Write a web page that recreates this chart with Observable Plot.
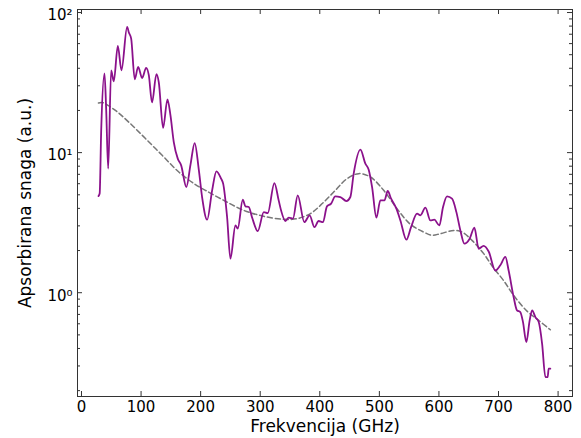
<!DOCTYPE html>
<html>
<head>
<meta charset="utf-8">
<script src="https://cdn.jsdelivr.net/npm/d3@7"></script>
<script src="https://cdn.jsdelivr.net/npm/@observablehq/plot@0.6"></script>
<style>
  body { margin: 0; background: #fff; }
  #chart svg { display: block; }
</style>
</head>
<body>
<div id="chart"></div>
<script>
// Measured absorbed power (purple line)
const freq = [28.5, 30.5, 33, 38.6, 41.5, 44.8, 49.8, 54.2, 61, 67.1, 76.6, 79.5, 83.4, 89.4, 95.1, 101.8, 108.5, 113, 118.4, 125.8, 129.7, 137, 144.3, 149.3, 154.9, 161.6, 167.3, 176, 183, 190, 197, 202.5, 210.9, 219.3, 226.5, 234.4, 237.8, 244.4, 250, 258.4, 262.3, 270.7, 275.2, 280.8, 286.5, 295.9, 306, 312.6, 323.8, 331, 335, 342.3, 347.9, 355, 363, 374, 383, 391, 398, 405.4, 412, 419, 426, 434.5, 444.6, 451.3, 456.9, 468.2, 476.5, 482.1, 487.8, 495, 501.7, 508.5, 514, 519.7, 528.6, 535.3, 545.4, 553.2, 563.3, 568.9, 577.3, 585.6, 592.3, 600.7, 606.9, 613.6, 622, 629.3, 636, 642.7, 651.6, 659.5, 666.7, 675, 683.5, 694.7, 703, 711.5, 717, 725.4, 731, 736.6, 741.1, 746.7, 752.3, 756.4, 761.9, 767.5, 773.2, 778.7, 782.5, 784.2, 787];
const absorbed = [4.9, 5.1, 14.0, 36.7, 20, 7.69, 38.7, 32.3, 57.7, 38.7, 78.9, 72, 65.2, 33.4, 40.9, 34.1, 40.2, 35.7, 22.8, 36.3, 31.9, 15.0, 24.0, 18.5, 11.9, 9.06, 8.11, 5.68, 8.2, 11.7, 7.5, 4.8, 3.32, 5.38, 7.35, 6.52, 6.01, 3.47, 1.75, 3.02, 2.87, 4.62, 4.13, 4.09, 3.43, 2.75, 3.76, 3.70, 6.06, 4.56, 3.87, 3.25, 3.43, 3.38, 4.96, 3.19, 3.57, 2.94, 3.25, 3.19, 4.13, 4.32, 4.87, 4.82, 4.51, 4.82, 7.08, 10.5, 8.34, 7.56, 5.68, 3.43, 4.56, 4.56, 5.32, 4.69, 3.98, 3.28, 2.39, 2.94, 3.67, 3.57, 4.05, 3.28, 3.32, 3.02, 4.09, 4.87, 4.69, 3.76, 2.78, 2.24, 2.43, 2.91, 2.06, 2.16, 1.97, 1.44, 1.57, 1.80, 1.44, 0.93, 0.748, 0.727, 0.617, 0.444, 0.634, 0.748, 0.67, 0.617, 0.432, 0.25, 0.25, 0.287, 0.287];

// Smooth fit (grey dashed line)
const fitFreq = [28.5, 35, 57, 79.4, 107.4, 135.4, 163.3, 191.3, 208, 238.8, 272.4, 306, 339.5, 362, 384.3, 401, 423.4, 445.8, 465.3, 484.9, 507.2, 529.6, 552, 574.4, 588, 602.4, 624.8, 638.8, 658.3, 675.1, 690.8, 708.6, 725.4, 747.8, 767.5, 787];
const fitValue = [22.6, 22.8, 20.0, 16.5, 12.6, 9.57, 7.27, 5.91, 5.38, 4.56, 3.87, 3.51, 3.34, 3.38, 3.67, 4.2, 5.23, 6.52, 7.08, 6.70, 5.38, 3.98, 3.08, 2.71, 2.57, 2.64, 2.78, 2.71, 2.30, 1.90, 1.52, 1.22, 0.957, 0.739, 0.634, 0.544];

const xTicks = [0, 100, 200, 300, 400, 500, 600, 700, 800];
const yMajor = [1, 10, 100];
const yMajorLabels = ["10⁰", "10¹", "10²"];
const yMinor = [0.2, 0.3, 0.4, 0.5, 0.6, 0.7, 0.8, 0.9, 2, 3, 4, 5, 6, 7, 8, 9, 20, 30, 40, 50, 60, 70, 80, 90];
const xLabel = "Frekvencija (GHz)";
const yLabel = "Apsorbirana snaga (a.u.)";

const series = freq.map((f, i) => ({f, v: absorbed[i]}));
const fit = fitFreq.map((f, i) => ({f, v: fitValue[i]}));

const W = 581, H = 438;
const mL = 77, mR = 9, mT = 9, mB = 42;
const fw = W - mL - mR, fh = H - mT - mB;
const axisColor = "#333";

const chart = Plot.plot({
  width: W,
  height: H,
  marginLeft: mL,
  marginRight: mR,
  marginTop: mT,
  marginBottom: mB,
  style: {fontFamily: "DejaVu Sans, sans-serif", fontSize: "15px", color: "#000", background: "#fff"},
  x: {domain: [-6.7, 824.2]},
  y: {type: "log", domain: [0.1816, 105.1]},
  marks: [
    Plot.line(fit, {x: "f", y: "v", stroke: "#777", strokeWidth: 1.5, strokeDasharray: "5,3", curve: "catmull-rom"}),
    Plot.line(series, {x: "f", y: "v", stroke: "#8b118b", strokeWidth: 1.8, curve: "monotone-x"}),
    // inward ticks on all four sides
    Plot.ruleX(xTicks, {stroke: axisColor, insetTop: fh - 5}),
    Plot.ruleX(xTicks, {stroke: axisColor, insetBottom: fh - 5}),
    Plot.ruleY(yMajor, {stroke: axisColor, insetRight: fw - 5}),
    Plot.ruleY(yMajor, {stroke: axisColor, insetLeft: fw - 5}),
    Plot.ruleY(yMinor, {stroke: axisColor, insetRight: fw - 3}),
    Plot.ruleY(yMinor, {stroke: axisColor, insetLeft: fw - 3}),
    Plot.frame({stroke: axisColor, strokeWidth: 1}),
    Plot.axisX({ticks: xTicks, tickSize: 0, tickPadding: 5, label: null, fontSize: 15, fill: "#000"}),
    Plot.axisY({ticks: yMajor, tickSize: 0, tickPadding: 5, label: null, fontSize: 15, fill: "#000",
      dy: 3, tickFormat: d => yMajorLabels[yMajor.indexOf(d)]}),
    Plot.text([xLabel], {frameAnchor: "bottom", lineAnchor: "middle", textAnchor: "middle", dy: 30, fontSize: 17, fill: "#000"}),
    Plot.text([yLabel], {frameAnchor: "left", lineAnchor: "middle", textAnchor: "middle", dx: -52, rotate: -90, fontSize: 17, fill: "#000"})
  ]
});
document.getElementById("chart").appendChild(chart);
</script>
</body>
</html>
